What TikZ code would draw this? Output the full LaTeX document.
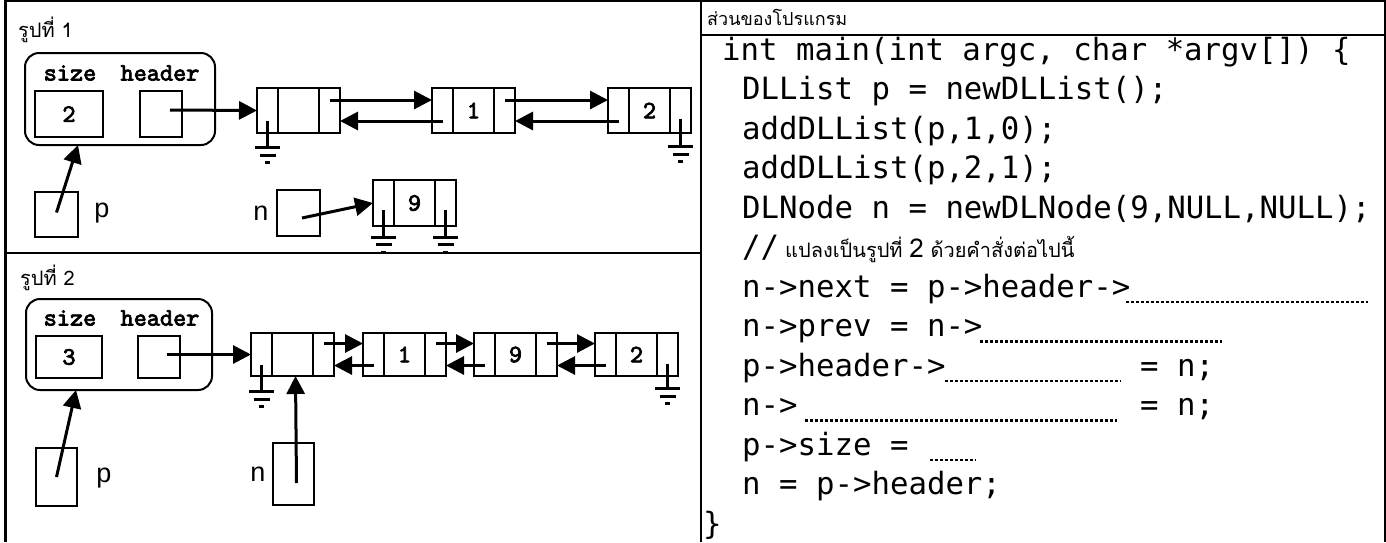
\documentclass[tikz,border=0pt]{standalone}
\usepackage{fontspec}
\setmainfont{Liberation Sans}
\newfontfamily\thaifont[Script=Thai]{Loma}
\newfontfamily\codefont{DejaVu Sans Mono}
\newfontfamily\figmono[FakeBold=3]{lmmono10-regular.otf}
\usetikzlibrary{arrows.meta}
\newcommand{\dlnode}[5]{%
  \node[lcell, minimum width=21pt, minimum height=#4pt, anchor=north west] (#1-p) at (#2,#3) {};
  \node[lcell, minimum width=41pt, minimum height=#4pt, anchor=north west] (#1-d) at (#1-p.north east) {#5};
  \node[lcell, minimum width=21pt, minimum height=#4pt, anchor=north west] (#1-n) at (#1-d.north east) {};
}
\begin{document}
\begin{tikzpicture}[x=1pt,y=-1pt,
  tbl/.style={line width=2pt},
  lcell/.style={draw,line width=2pt,inner sep=0pt,outer sep=0pt,font=\figmono\fontsize{25}{25}\selectfont},
  vbox/.style={draw,line width=2pt,inner sep=0pt,outer sep=0pt,anchor=north west,font=\figmono\fontsize{25}{25}\selectfont},
  sbox/.style={draw,line width=2pt,rounded corners=14pt,inner sep=0pt,outer sep=0pt,anchor=north west},
  ptr/.style={line width=3pt,-{Triangle[length=18pt,width=18pt]}},
  gl/.style={line width=3pt},
  fld/.style={font=\figmono\fontsize{25}{25}\selectfont, inner sep=0pt},
  lbl/.style={font=\fontsize{27}{27}\selectfont, inner sep=0pt},
  thai/.style={font=\thaifont\fontsize{20}{20}\selectfont, inner sep=0pt, anchor=base west},
  codeln/.style={font=\codefont\fontsize{30.7}{30.7}\selectfont, inner sep=0pt, anchor=base west},
  leader/.style={line width=2.5pt, dash pattern=on 2.5pt off 2.5pt},
  gnd/.pic={\draw[gl] (-12.5,0) -- (12.5,0); \draw[gl] (-8,7.5) -- (8,7.5); \draw[gl] (-2.5,15) -- (2.5,15);}
]
\useasboundingbox (0,0) rectangle (1386,542);
\fill[white] (0,0) rectangle (1386,542);

% table
\draw[line width=3pt] (5,0) -- (5,542);
\draw[tbl] (4,1) -- (1386,1);
\draw[tbl] (701,0) -- (701,542);
\draw[tbl] (5,253) -- (701,253);
\draw[tbl] (701,35) -- (1386,35);
\draw[tbl] (1385,0) -- (1385,542);

% ---------- figure 1 ----------
\node[thai] (t1) at (18,37) {รูปที่ 1};
\node[sbox, minimum width=190pt, minimum height=92pt] (s1) at (25,53) {};
\node[fld] (f1a) at (70,73) {size};
\node[fld] (f1b) at (160,73) {header};
\node[vbox, minimum width=68pt, minimum height=46pt] (sz1) at (35,91) {2};
\node[vbox, minimum width=42pt, minimum height=46pt] (hd1) at (140,91) {};
\dlnode{a0}{257}{88}{45}{}
\dlnode{a1}{432}{88}{45}{1}
\dlnode{a2}{608}{88}{45}{2}
\draw[ptr] ([xshift=9pt,yshift=4pt]hd1.center) -- (a0-p.west);
\draw[ptr] ([yshift=10.5pt]a0-n.center) -- ([yshift=10.5pt]a1-p.west);
\draw[ptr] ([yshift=-10.5pt]a1-p.center) -- ([yshift=-10.5pt]a0-n.east);
\draw[ptr] ([yshift=10.5pt]a1-n.center) -- ([yshift=10.5pt]a2-p.west);
\draw[ptr] ([yshift=-10.5pt]a2-p.center) -- ([yshift=-10.5pt]a1-n.east);
\draw[gl] ([yshift=-10pt]a0-p.center) -- ++(0,27) coordinate (g1);
\pic at (g1) {gnd};
\draw[gl] ([yshift=-8pt]a2-n.center) -- ++(0,28) coordinate (g2);
\pic at (g2) {gnd};

\node[vbox, minimum width=43pt, minimum height=45pt] (p1) at (35,192) {};
\node[lbl] (pl1) at (102,213) {p};
\draw[ptr] ([yshift=2pt]p1.center) -- ([xshift=-42pt]s1.south);
\node[lbl] (nl1) at (261,213) {n};
\node[vbox, minimum width=43pt, minimum height=46pt] (n1) at (277,190) {};
\dlnode{a9}{373}{180}{46}{9}
\draw[ptr] ([xshift=3.5pt,yshift=-5pt]n1.center) -- (a9-p.west);
\draw[gl] ([yshift=-7pt]a9-p.center) -- ++(0,27) coordinate (g3);
\pic at (g3) {gnd};
\draw[gl] ([yshift=-7pt]a9-n.center) -- ++(0,27) coordinate (g4);
\pic at (g4) {gnd};

% ---------- figure 2 ----------
\node[thai] (t2) at (20,285) {รูปที่ 2};
\node[sbox, minimum width=186pt, minimum height=91pt] (s2) at (26,299) {};
\node[fld] (f2a) at (70,318) {size};
\node[fld] (f2b) at (160,318) {header};
\node[vbox, minimum width=66pt, minimum height=42pt] (sz2) at (36,336) {3};
\node[vbox, minimum width=42pt, minimum height=42pt] (hd2) at (138,336) {};
\dlnode{b0}{251}{333}{43}{}
\dlnode{b1}{363}{333}{43}{1}
\dlnode{b9}{474}{333}{43}{9}
\dlnode{b2}{595}{333}{43}{2}
\draw[ptr] ([xshift=8pt,yshift=2.5pt]hd2.center) -- (b0-p.west);
\draw[ptr] ([yshift=11pt]b0-n.center) -- ([yshift=11pt]b1-p.west);
\draw[ptr] ([yshift=-11pt]b1-p.center) -- ([yshift=-11pt]b0-n.east);
\draw[ptr] ([yshift=11pt]b1-n.center) -- ([yshift=11pt]b9-p.west);
\draw[ptr] ([yshift=-11pt]b9-p.center) -- ([yshift=-11pt]b1-n.east);
\draw[ptr] ([yshift=11pt]b9-n.center) -- ([yshift=11pt]b2-p.west);
\draw[ptr] ([yshift=-11pt]b2-p.center) -- ([yshift=-11pt]b9-n.east);
\draw[gl] ([yshift=-10pt]b0-p.center) -- ++(0,27) coordinate (g5);
\pic at (g5) {gnd};
\draw[gl] ([yshift=-9pt]b2-n.center) -- ++(0,25) coordinate (g6);
\pic at (g6) {gnd};

\node[vbox, minimum width=41pt, minimum height=58pt] (p2) at (36,448) {};
\node[lbl] (pl2) at (104,478) {p};
\draw[ptr] (p2.center) -- ([xshift=-43pt]s2.south);
\node[lbl] (nl2) at (258,474) {n};
\node[vbox, minimum width=41pt, minimum height=62pt] (n2) at (273,443) {};
\draw[ptr] ([xshift=3pt,yshift=-9pt]n2.center) -- ([xshift=3pt]b0-d.south);

% ---------- program ----------
\node[thai, font=\thaifont\fontsize{18}{18}\selectfont] (hdr) at (707,25) {ส่วนของโปรแกรม};
\node[codeln] (c0) at (722,60) {int main(int argc, char *argv[]) \{};
\node[codeln] (c1) at (742,99.5) {DLList p = newDLList();};
\node[codeln] (c2) at (742,139) {addDLList(p,1,0);};
\node[codeln] (c3) at (742,178.5) {addDLList(p,2,1);};
\node[codeln] (c4) at (742,218) {DLNode n = newDLNode(9,NULL,NULL);};
\node[codeln] (c5) at (742,257.5) {//\hspace{6pt}{\thaifont\fontsize{20}{20}\selectfont แปลงเป็นรูปที่ {\fontsize{26}{26}\selectfont 2} ด้วยคำสั่งต่อไปนี้}};
\node[codeln] (c6) at (742,297) {n->next = p->header->};
\node[codeln] (c7) at (742,336.5) {n->prev = n->};
\node[codeln] (c8) at (742,376) {p->header->};
\node[codeln] (c8b) at (1140,376) {= n;};
\node[codeln] (c9) at (742,415.5) {n->};
\node[codeln] (c9b) at (1140,415.5) {= n;};
\node[codeln] (c10) at (742,455) {p->size =};
\node[codeln] (c11) at (742,494.5) {n = p->header;};
\node[codeln] (c12) at (703,534) {\}};
\draw[leader] (1126,302) -- (1368,302);
\draw[leader] (980,341.5) -- (1222,341.5);
\draw[leader] (945,381) -- (1121,381);
\draw[leader] (805,420.5) -- (1117,420.5);
\draw[leader] (930,460) -- (976,460);
\end{tikzpicture}
\end{document}
